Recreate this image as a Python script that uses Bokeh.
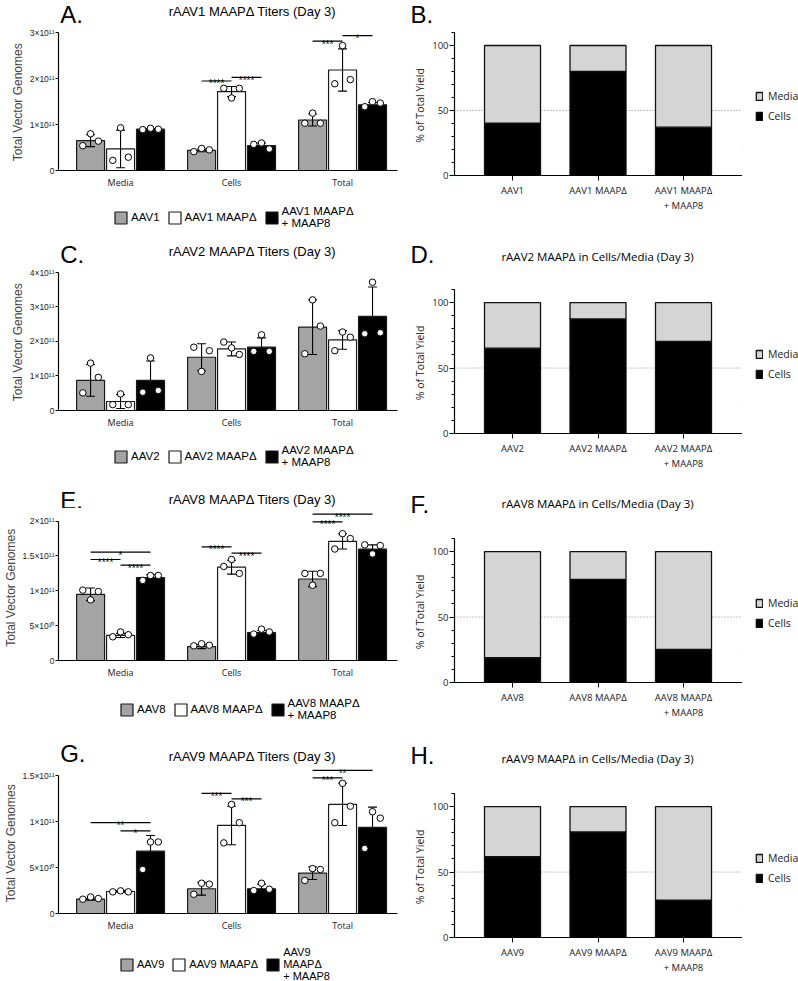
from bokeh.plotting import figure
from bokeh.layouts import column, row
from bokeh.models import (ColumnDataSource, Legend, LegendItem, Span,
                          FixedTicker, Range1d, Spacer)
from bokeh.core.properties import value
from bokeh.embed import file_html
from bokeh.resources import INLINE

GROUPS = ["Media", "Cells", "Total"]

# ---------- titer panels (values in units of 1e11 vector genomes) ----------
# order of series: wild type, MAAPΔ, MAAPΔ + MAAP8 ; inner lists follow GROUPS
A_names = ["AAV1", "AAV1 MAAPΔ", "AAV1 MAAPΔ\n+ MAAP8"]
A_mean = [[0.65, 0.44, 1.10], [0.47, 1.72, 2.19], [0.90, 0.54, 1.43]]
A_sd = [[0.13, 0.03, 0.13], [0.41, 0.11, 0.46], [0.01, 0.06, 0.05]]
A_pts = [[[0.54, 0.80, 0.64], [0.41, 0.48, 0.45], [1.03, 1.25, 1.03]],
         [[0.22, 0.93, 0.29], [1.79, 1.58, 1.79], [1.89, 2.72, 1.98]],
         [[0.89, 0.92, 0.90], [0.57, 0.60, 0.47], [1.39, 1.50, 1.47]]]
A_sig = [("Cells", 0, 1, 1.95, "****"), ("Cells", 1, 2, 2.03, "****"),
         ("Total", 0, 1, 2.82, "***"), ("Total", 1, 2, 2.94, "*")]
A_yticks = [0, 1, 2, 3]
A_ylabels = ["0", "1×10¹¹", "2×10¹¹", "3×10¹¹"]

C_names = ["AAV2", "AAV2 MAAPΔ", "AAV2 MAAPΔ\n+ MAAP8"]
C_mean = [[0.87, 1.54, 2.41], [0.26, 1.78, 2.04], [0.87, 1.83, 2.72]]
C_sd = [[0.46, 0.39, 0.79], [0.20, 0.20, 0.27], [0.56, 0.27, 0.85]]
C_pts = [[[0.51, 1.37, 0.96], [1.83, 1.13, 1.73], [1.64, 3.20, 2.44]],
         [[0.17, 0.48, 0.17], [1.98, 1.81, 1.62], [1.73, 2.27, 2.12]],
         [[0.53, 1.52, 0.58], [1.71, 2.19, 1.71], [2.22, 3.71, 2.25]]]
C_sig = []
C_yticks = [0, 1, 2, 3, 4]
C_ylabels = ["0", "1×10¹¹", "2×10¹¹", "3×10¹¹", "4×10¹¹"]

E_names = ["AAV8", "AAV8 MAAPΔ", "AAV8 MAAPΔ\n+ MAAP8"]
E_mean = [[0.95, 0.20, 1.17], [0.36, 1.34, 1.71], [1.19, 0.40, 1.60]]
E_sd = [[0.09, 0.03, 0.11], [0.03, 0.10, 0.11], [0.04, 0.03, 0.06]]
E_pts = [[[1.01, 0.87, 0.99], [0.21, 0.24, 0.22], [1.25, 1.08, 1.25]],
         [[0.34, 0.41, 0.37], [1.35, 1.45, 1.25], [1.60, 1.82, 1.75]],
         [[1.15, 1.22, 1.22], [0.38, 0.45, 0.41], [1.66, 1.53, 1.65]]]
E_sig = [("Media", 0, 2, 1.555, "*"), ("Media", 0, 1, 1.45, "****"),
         ("Media", 1, 2, 1.37, "****"), ("Cells", 0, 1, 1.63, "****"),
         ("Cells", 1, 2, 1.54, "****"), ("Total", 0, 2, 2.10, "****"),
         ("Total", 0, 1, 1.99, "****")]
E_yticks = [0, 0.5, 1, 1.5, 2]
E_ylabels = ["0", "5×10¹⁰", "1×10¹¹", "1.5×10¹¹", "2×10¹¹"]

G_names = ["AAV9", "AAV9 MAAPΔ", "AAV9\nMAAPΔ\n+ MAAP8"]
G_mean = [[0.156, 0.27, 0.44], [0.24, 0.96, 1.19], [0.68, 0.27, 0.94]]
G_sd = [[0.01, 0.07, 0.07], [0.01, 0.21, 0.23], [0.17, 0.05, 0.22]]
G_pts = [[[0.156, 0.18, 0.163], [0.21, 0.33, 0.32], [0.36, 0.49, 0.48]],
         [[0.236, 0.247, 0.236], [0.77, 1.19, 0.99], [0.99, 1.42, 1.17]],
         [[0.48, 0.78, 0.78], [0.25, 0.33, 0.265], [0.71, 1.11, 1.04]]]
G_sig = [("Media", 0, 2, 0.99, "**"), ("Media", 1, 2, 0.90, "*"),
         ("Cells", 0, 1, 1.31, "***"), ("Cells", 1, 2, 1.25, "***"),
         ("Total", 0, 2, 1.56, "**"), ("Total", 0, 1, 1.48, "***")]
G_yticks = [0, 0.5, 1, 1.5]
G_ylabels = ["0", "5×10¹⁰", "1×10¹¹", "1.5×10¹¹"]

# ---------- % of total yield panels (percent in cells; media = remainder) ----------
B_cats = ["AAV1", "AAV1 MAAPΔ", "AAV1 MAAPΔ\n+ MAAP8"]
B_cells = [40.3, 80.0, 37.2]
D_cats = ["AAV2", "AAV2 MAAPΔ", "AAV2 MAAPΔ\n+ MAAP8"]
D_cells = [65.2, 87.5, 70.3]
F_cats = ["AAV8", "AAV8 MAAPΔ", "AAV8 MAAPΔ\n+ MAAP8"]
F_cells = [18.9, 78.8, 25.3]
H_cats = ["AAV9", "AAV9 MAAPΔ", "AAV9 MAAPΔ\n+ MAAP8"]
H_cells = [61.7, 80.6, 28.6]
PCT_SERIES = ["Media", "Cells"]

GRAY = "#a4a4a4"
LIGHT = "#d5d5d5"
OFFS = [-0.27, 0.0, 0.27]
BAR_W = 0.252
JIT = [-0.07, 0.0, 0.07]
CAP = 0.04
OS = "Open Sans"
LS = "Liberation Sans"


def blank(width, height):
    return figure(width=width, height=height, output_backend="svg", toolbar_location=None,
                  title=None, x_range=Range1d(0, 1), y_range=Range1d(0, 1),
                  x_axis_type=None, y_axis_type=None, min_border=0,
                  outline_line_color=None)


def header(x0, width, y0, y1, letter, letter_x, letter_mid, title=None,
           title_x=0, title_y=0, title_font=LS, title_size="13px"):
    h = figure(width=width, height=y1 - y0, output_backend="svg", toolbar_location=None,
               title=None, x_range=Range1d(x0, x0 + width), y_range=Range1d(y1, y0),
               x_axis_type=None, y_axis_type=None, min_border=0,
               outline_line_color=None)
    h.text(x=[letter_x], y=[letter_mid], text=[letter], text_font=value(LS),
           text_font_size="24px", text_font_style="normal", text_align="left",
           text_baseline="middle", text_color="black")
    if title:
        h.text(x=[title_x], y=[title_y], text=[title], text_font=value(title_font),
               text_font_size=title_size, text_font_style="normal", text_align="center",
               text_baseline="middle", text_color="black")
    return h


def swatches(f, fills, line_color, line_width):
    # swatch renderers for the legend: one bar each, far outside the visible range
    return [f.vbar(x=[-100], top=[-99], bottom=[-100], width=0.1, fill_color=c,
                   line_color=line_color, line_width=line_width) for c in fills]


def titer_legend(names, width, height, font):
    f = blank(width, height)
    rs = swatches(f, [GRAY, "white", "black"], "#1a1a1a", 1.2)
    leg = Legend(items=[LegendItem(label=value(n), renderers=[r]) for n, r in zip(names, rs)],
                 location="top_left", orientation="horizontal",
                 glyph_width=15, glyph_height=15, label_standoff=3, spacing=7,
                 padding=0, margin=5, border_line_color=None, background_fill_alpha=0,
                 label_text_font=LS, label_text_font_size=font,
                 label_text_line_height=1.1, label_text_color="black")
    f.add_layout(leg)
    return f


def pct_legend(height):
    f = blank(56, height)
    rs = swatches(f, [LIGHT, "black"], "#111111", 1.3)
    leg = Legend(items=[LegendItem(label=value(n), renderers=[r])
                        for n, r in zip(PCT_SERIES, rs)],
                 location="top_left", orientation="vertical",
                 glyph_width=8, glyph_height=10, label_standoff=5, spacing=6,
                 padding=0, margin=13, border_line_color=None, background_fill_alpha=0,
                 label_text_font=OS, label_text_font_size="10.5px",
                 label_text_color="#222222")
    f.add_layout(leg)
    return f


def titer_panel(means, sds, pts, sigs, yticks, ylabels, fig_top, fig_bot, frame_bot, ppu):
    fh = frame_bot - fig_top
    fig_h = fig_bot - fig_top
    p = figure(width=400, height=fig_h, output_backend="svg", toolbar_location=None,
               title=None, x_range=Range1d(0.441, 3.495), y_range=Range1d(0, fh / ppu),
               min_border_left=58, min_border_right=3, min_border_top=0,
               min_border_bottom=fig_h - fh, outline_line_color=None)
    p.xgrid.visible = False
    p.ygrid.visible = False
    fills = [GRAY, "white", "black"]
    for s in range(3):
        xs = [g + 1 + OFFS[s] for g in range(3)]
        src = ColumnDataSource(dict(x=xs, top=means[s]))
        p.vbar(x="x", top="top", bottom=0, width=BAR_W, source=src,
               fill_color=fills[s], line_color="#1a1a1a", line_width=1.2)
    for s in range(3):
        xs = [g + 1 + OFFS[s] for g in range(3)]
        lo = [m - d for m, d in zip(means[s], sds[s])]
        hi = [m + d for m, d in zip(means[s], sds[s])]
        p.segment(x0=xs, y0=lo, x1=xs, y1=hi, line_color="black", line_width=1.1)
        for ys in (lo, hi):
            p.segment(x0=[x - CAP for x in xs], y0=ys, x1=[x + CAP for x in xs], y1=ys,
                      line_color="black", line_width=1.1)
        px, py = [], []
        for g in range(3):
            for k, v in enumerate(pts[s][g]):
                px.append(g + 1 + OFFS[s] + JIT[k])
                py.append(v)
        p.scatter(px, py, size=6.5, fill_color="white", line_color="black", line_width=1)
    if sigs:
        gi = {n: i for i, n in enumerate(GROUPS)}
        x0 = [gi[g] + 1 + OFFS[a] for g, a, b, y, t in sigs]
        x1 = [gi[g] + 1 + OFFS[b] for g, a, b, y, t in sigs]
        sy = [y for g, a, b, y, t in sigs]
        st = [t for g, a, b, y, t in sigs]
        p.segment(x0=x0, y0=sy, x1=x1, y1=sy, line_color="black", line_width=1.2)
        p.text(x=[(a + b) / 2 for a, b in zip(x0, x1)], y=sy, text=st,
               text_font=value(LS), text_font_size="10px",
               text_align="center", text_baseline="alphabetic", y_offset=3,
               text_color="black")
    ax = p.xaxis[0]
    ax.ticker = FixedTicker(ticks=[1, 2, 3])
    ax.major_label_overrides = {1: GROUPS[0], 2: GROUPS[1], 3: GROUPS[2]}
    ax.major_tick_out = 0
    ax.major_tick_in = 0
    ax.minor_tick_out = 0
    ax.minor_tick_in = 0
    ax.major_label_standoff = 5
    ax.major_label_text_font = OS
    ax.major_label_text_font_size = "9px"
    ax.major_label_text_color = "#222222"
    ax.axis_line_width = 1.2
    ay = p.yaxis[0]
    ay.ticker = FixedTicker(ticks=yticks)
    ay.major_label_overrides = dict(zip(yticks, ylabels))
    ay.bounds = (0, yticks[-1])
    ay.major_tick_out = 3
    ay.major_tick_in = 0
    ay.minor_tick_out = 0
    ay.minor_tick_in = 0
    ay.major_label_standoff = 1
    ay.major_label_text_font = LS
    ay.major_label_text_font_size = "8.5px"
    ay.major_label_text_color = "#222222"
    ay.axis_line_width = 1.2
    ay.axis_label = "Total  Vector  Genomes"
    ay.axis_label_standoff = 2
    ay.axis_label_text_font = LS
    ay.axis_label_text_font_size = "12px"
    ay.axis_label_text_font_style = "normal"
    return p


def pct_panel(cats, cells, fig_top, fig_h, frame_top, frame_bot):
    bt = frame_top - fig_top
    fh = frame_bot - frame_top
    p = figure(width=342, height=fig_h, output_backend="svg", toolbar_location=None,
               title=None, x_range=Range1d(0.3216, 3.69), y_range=Range1d(0, 110),
               min_border_left=54, min_border_right=0, min_border_top=bt,
               min_border_bottom=fig_h - bt - fh, outline_line_color=None)
    p.xgrid.visible = False
    p.ygrid.visible = False
    p.add_layout(Span(location=50, dimension="width", line_color="#8a8a8a",
                      line_dash="1 2", line_width=1, level="underlay"))
    media = [100 - c for c in cells]
    src = ColumnDataSource(dict(x=[1, 2, 3], cells=cells, media=media))
    p.vbar_stack(["cells", "media"], x="x", width=0.655, source=src,
                 fill_color=["black", LIGHT], line_color="#111111", line_width=1.3)
    ax = p.xaxis[0]
    ax.ticker = FixedTicker(ticks=[1, 2, 3])
    ax.major_label_overrides = {1: cats[0], 2: cats[1], 3: cats[2]}
    ax.major_tick_out = 5
    ax.major_tick_in = 0
    ax.minor_tick_out = 0
    ax.minor_tick_in = 0
    ax.major_label_standoff = 3
    ax.major_label_text_font = OS
    ax.major_label_text_font_size = "9.5px"
    ax.major_label_text_color = "#222222"
    ax.axis_line_width = 1.2
    ay = p.yaxis[0]
    ay.ticker = FixedTicker(ticks=[0, 50, 100],
                            minor_ticks=[10, 20, 30, 40, 60, 70, 80, 90, 110])
    ay.bounds = (0, 110)
    ay.major_tick_out = 5
    ay.major_tick_in = 0
    ay.minor_tick_out = 3
    ay.minor_tick_in = 0
    ay.major_label_standoff = 1
    ay.major_label_text_font = OS
    ay.major_label_text_font_size = "9.5px"
    ay.major_label_text_color = "#222222"
    ay.axis_line_width = 1.2
    ay.axis_label = "% of Total  Yield"
    ay.axis_label_standoff = 2
    ay.axis_label_text_font = OS
    ay.axis_label_text_font_size = "10.5px"
    ay.axis_label_text_font_style = "normal"
    ay.axis_label_text_color = "#222222"
    return p


def left_block(letter, title, names, means, sds, pts, sigs, yticks, ylabels,
               y0, head_bot, plot_bot, y1, frame_bot, ppu, leg_left, leg_font,
               title_y, letter_mid):
    h = header(0, 400, y0, head_bot, letter, 2, letter_mid, title, 231, title_y)
    p = titer_panel(means, sds, pts, sigs, yticks, ylabels, head_bot, plot_bot, frame_bot, ppu)
    sp = leg_left - 5
    f = titer_legend(names, 400 - sp, y1 - plot_bot, leg_font)
    return column(h, p, row(Spacer(width=sp, height=y1 - plot_bot), f))


def right_block(letter, title, cats, cells, y0, head_bot, y1, frame_top, frame_bot,
                title_y, letter_mid, leg_center):
    h = header(400, 398, y0, head_bot, letter, 410, letter_mid, title, 597, title_y,
               OS, "11.5px")
    p = pct_panel(cats, cells, head_bot, y1 - head_bot, frame_top, frame_bot)
    gap = int(round(leg_center - 17 - 13 - head_bot))
    f = pct_legend(70)
    return column(h, row(p, column(Spacer(width=56, height=gap), f)))


bA = left_block("A.", "rAAV1 MAAPΔ Titers  (Day 3)", A_names, A_mean, A_sd, A_pts, A_sig,
                A_yticks, A_ylabels, 0, 27, 200, 240, 170, 45.9, 113, "11.5px", 10.5, 13.5)
bB = right_block("B.", None, B_cats, B_cells, 0, 27, 240, 32, 175, 0, 13.5, 106)
bC = left_block("C.", "rAAV2 MAAPΔ Titers  (Day 3)", C_names, C_mean, C_sd, C_pts, C_sig,
                C_yticks, C_ylabels, 240, 267, 439, 490, 410, 34.58, 113, "11.5px", 251,
                253.5)
bD = right_block("D.", "rAAV2 MAAPΔ in Cells/Media (Day 3)", D_cats, D_cells,
                 240, 268, 490, 289, 433, 256, 254, 364)
bE = left_block("E.", "rAAV8 MAAPΔ Titers  (Day 3)", E_names, E_mean, E_sd, E_pts, E_sig,
                E_yticks, E_ylabels, 490, 508, 692, 735, 660, 69.67, 119, "11.5px", 499, 500)
bF = right_block("F.", "rAAV8 MAAPΔ in Cells/Media (Day 3)", F_cats, F_cells,
                 490, 517, 735, 538, 682, 502.5, 503.5, 613)
bG = left_block("G.", "rAAV9 MAAPΔ Titers  (Day 3)", G_names, G_mean, G_sd, G_pts, G_sig,
                G_yticks, G_ylabels, 735, 766, 941, 981, 913, 91.7, 119, "11px", 756, 752.5)
bH = right_block("H.", "rAAV9 MAAPΔ in Cells/Media (Day 3)", H_cats, H_cells,
                 735, 769, 981, 793, 937, 757.5, 755, 868)

layout = column(row(bA, bB), row(bC, bD), row(bE, bF), row(bG, bH))
open("out.html", "w").write(file_html(layout, INLINE))
